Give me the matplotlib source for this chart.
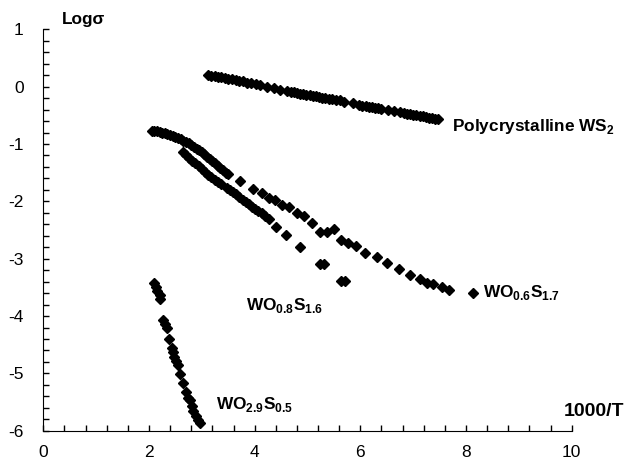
import matplotlib
matplotlib.use('Agg')
import matplotlib.pyplot as plt
from matplotlib.ticker import MultipleLocator

plt.rcParams['font.family'] = ['Liberation Sans', 'DejaVu Sans']
plt.rcParams['axes.unicode_minus'] = False
plt.rcParams['mathtext.fontset'] = 'custom'
plt.rcParams['mathtext.rm'] = 'Liberation Sans'
plt.rcParams['mathtext.bf'] = 'Liberation Sans:bold'

# Polycrystalline WS2
ws2_x = [3.12, 3.18, 3.24, 3.30, 3.36, 3.43, 3.50, 3.57, 3.64, 3.71, 3.78, 3.86,
         3.94, 4.02, 4.10, 4.24, 4.36, 4.48, 4.62, 4.68, 4.74, 4.80, 4.86, 4.92,
         4.98, 5.04, 5.10, 5.16, 5.22, 5.28, 5.34, 5.40, 5.46, 5.54, 5.62, 5.70,
         5.86, 5.98, 6.04, 6.10, 6.16, 6.22, 6.28, 6.34, 6.40, 6.52, 6.64, 6.76,
         6.82, 6.88, 6.94, 7.00, 7.06, 7.12, 7.18, 7.24, 7.30, 7.36, 7.42, 7.47]
ws2_y = [0.20, 0.19, 0.18, 0.17, 0.16, 0.15, 0.14, 0.13, 0.11, 0.10, 0.09, 0.07,
         0.06, 0.04, 0.02, 0.00, -0.02, -0.05, -0.08, -0.09, -0.10, -0.11, -0.12, -0.13,
         -0.14, -0.15, -0.16, -0.17, -0.18, -0.19, -0.20, -0.21, -0.22, -0.23, -0.24, -0.27,
         -0.29, -0.32, -0.33, -0.34, -0.35, -0.36, -0.37, -0.38, -0.39, -0.41, -0.43, -0.45,
         -0.46, -0.47, -0.48, -0.49, -0.50, -0.51, -0.52, -0.53, -0.54, -0.55, -0.56, -0.57]

# WO0.6S1.7
wo06_x = [2.05, 2.10, 2.15, 2.20, 2.25, 2.30, 2.35, 2.40, 2.45, 2.50, 2.55, 2.60,
          2.65, 2.70, 2.75, 2.80, 2.85, 2.90, 2.95, 3.00, 3.05, 3.10, 3.15, 3.20,
          3.25, 3.30, 3.35, 3.40, 3.45, 3.50,
          3.72, 3.96, 4.13, 4.28, 4.39, 4.51, 4.65, 4.80, 4.94, 5.09, 5.24, 5.37,
          5.50, 5.63, 5.77, 5.92, 6.09, 6.31, 6.51, 6.74, 6.94, 7.13, 7.27, 7.37,
          7.54, 7.68, 8.13]
wo06_y = [-0.775, -0.775, -0.78, -0.79, -0.80, -0.81, -0.82, -0.84, -0.86, -0.87, -0.89, -0.91,
          -0.94, -0.96, -0.99, -1.02, -1.05, -1.08, -1.11, -1.14, -1.18, -1.22, -1.26, -1.30,
          -1.34, -1.38, -1.42, -1.46, -1.50, -1.52,
          -1.64, -1.78, -1.86, -1.94, -1.98, -2.06, -2.10, -2.20, -2.25, -2.37, -2.54, -2.54,
          -2.48, -2.67, -2.73, -2.77, -2.90, -2.97, -3.07, -3.18, -3.28, -3.36, -3.42, -3.44,
          -3.50, -3.54, -3.60]

# WO0.8S1.6
wo08_x = [2.64, 2.70, 2.76, 2.82, 2.88, 2.94, 3.00, 3.06, 3.12, 3.18, 3.24, 3.30,
          3.36, 3.47, 3.53, 3.59, 3.65, 3.71, 3.77, 3.83, 3.89, 3.95, 4.01, 4.07,
          4.13, 4.20, 4.28, 4.40, 4.59, 4.86, 5.23, 5.31, 5.63, 5.71]
wo08_y = [-1.14, -1.19, -1.24, -1.29, -1.34, -1.39, -1.44, -1.49, -1.54, -1.58, -1.62, -1.66,
          -1.70, -1.76, -1.80, -1.84, -1.88, -1.93, -1.97, -2.01, -2.05, -2.09, -2.13, -2.17,
          -2.21, -2.26, -2.30, -2.44, -2.59, -2.79, -3.10, -3.10, -3.39, -3.39]

# WO2.9S0.5
wo29_x = [2.10, 2.13, 2.16, 2.20, 2.21, 2.26, 2.30, 2.34, 2.38, 2.43, 2.45, 2.47,
          2.51, 2.55, 2.59, 2.64, 2.70, 2.74, 2.78, 2.81, 2.84, 2.89, 2.93, 2.97]
wo29_y = [-3.43, -3.50, -3.57, -3.64, -3.70, -4.07, -4.13, -4.20, -4.40, -4.56, -4.63, -4.71,
          -4.78, -4.86, -5.01, -5.17, -5.33, -5.42, -5.47, -5.56, -5.65, -5.74, -5.81, -5.87]

fig = plt.figure(figsize=(6.25, 4.62), dpi=100)
ax = fig.add_axes([0.0693, 0.0676, 0.8454, 0.8690])

for xs, ys in [(ws2_x, ws2_y), (wo06_x, wo06_y), (wo08_x, wo08_y), (wo29_x, wo29_y)]:
    ax.plot(xs, ys, linestyle='none', marker='D', markersize=4.6, color='black')

ax.set_xlim(0, 10)
ax.set_ylim(-6, 1)
ax.spines['top'].set_visible(False)
ax.spines['right'].set_visible(False)
ax.xaxis.set_major_locator(MultipleLocator(2))
ax.xaxis.set_minor_locator(MultipleLocator(0.4))
ax.yaxis.set_major_locator(MultipleLocator(1))
ax.yaxis.set_minor_locator(MultipleLocator(0.2))
ax.tick_params(which='both', direction='in', length=4, width=1, labelsize=12.5)
ax.tick_params(axis='x', pad=10.5)
ax.tick_params(axis='y', pad=14)

bold = dict(fontweight='bold', fontsize=12.4, clip_on=False, va='baseline', ha='left')
ax.text(0.35, 1.10, 'Logσ', **bold)
ax.text(9.85, -5.75, '1000/T', fontweight='bold', fontsize=14, clip_on=False,
        va='baseline', ha='left')
ax.text(7.74, -0.775, 'Polycrystalline WS$_\\mathbf{2}$', **bold)
ax.text(8.32, -3.67, 'WO$_\\mathbf{0.6}$S$_\\mathbf{1.7}$', **bold)
ax.text(3.84, -3.90, 'WO$_\\mathbf{0.8}$S$_\\mathbf{1.6}$', **bold)
ax.text(3.27, -5.62, 'WO$_\\mathbf{2.9}$S$_\\mathbf{0.5}$', **bold)

fig.savefig('out.png', dpi=100)
